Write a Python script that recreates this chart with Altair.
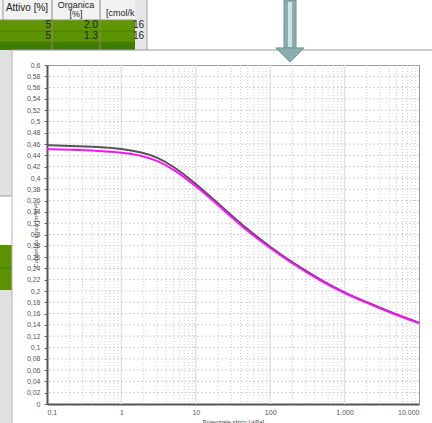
import altair as alt
import pandas as pd

# Water retention curves: water potential [-kPa] vs water content [m3/m3]
potenziale = [0.1, 0.2, 0.5, 1, 2, 3, 5, 10, 20, 50, 100, 200, 500, 1000, 2000, 5000, 10000]
contenuto_grigio = [0.458, 0.457, 0.455, 0.452, 0.445, 0.437, 0.421, 0.390, 0.355, 0.308,
                    0.278, 0.250, 0.218, 0.197, 0.180, 0.158, 0.144]
contenuto_magenta = [0.451, 0.450, 0.448, 0.445, 0.439, 0.431, 0.416, 0.386, 0.352, 0.305,
                     0.276, 0.248, 0.216, 0.196, 0.179, 0.157, 0.143]

# Axis ticks and grid positions
x_ticks = [0.1, 1, 10, 100, 1000, 10000]
x_major_grid = [1, 10, 100, 1000]
x_minor_grid = [m * 10.0 ** e for e in range(-1, 4) for m in range(2, 10)]
y_ticks = [round(0.02 * i, 2) for i in range(0, 31)]
y_grid = [round(0.02 * i, 2) for i in range(1, 30)]

# Background table contents
tab_header = ["Attivo [%]", "Organica", "[%]", "[cmol/k"]
tab_rows = [["5", "2.0", "16"], ["5", "1.3", "16"]]

W, H = 372, 339
PAD_L, PAD_T = 47, 65

curve = pd.DataFrame({
    "pot": potenziale * 2,
    "theta": contenuto_grigio + contenuto_magenta,
    "serie": ["A"] * len(potenziale) + ["B"] * len(potenziale),
})

x_scale = alt.Scale(type="log", domain=[0.1, 10000], nice=False)
y_scale = alt.Scale(domain=[0, 0.6], nice=False, zero=True)

x_axis = alt.Axis(
    values=x_ticks, grid=False, ticks=False,
    labelExpr="datum.value < 1 ? '0,1' : replace(format(datum.value, ','), ',', '.')",
    labelFontSize=7, labelColor="#555", labelFont="Liberation Sans", labelPadding=4,
    domainColor="#555", domainWidth=2,
    title="Potenziale idrico [-kPa]", titleFontSize=6, titleFontWeight="normal",
    titleColor="#444", titleFont="Liberation Sans", titleY=17, titleBaseline="middle",
)
y_axis = alt.Axis(
    values=y_ticks, grid=False, format=".2~f",
    labelExpr="replace(datum.label, '.', ',')",
    labelFontSize=7, labelColor="#555", labelFont="Liberation Sans", labelPadding=4,
    tickSize=3, tickColor="#666", domainColor="#555", domainWidth=2,
    title="Contenuto idrico [m³/m³]", titleFontSize=6, titleFontWeight="normal",
    titleColor="#444", titleFont="Liberation Sans", titleX=-12, titleY=170,
    titleBaseline="middle", titleAngle=270,
)

base = alt.Chart(curve)

def rules_x(vals, color, dash, width):
    return alt.Chart(pd.DataFrame({"pot": vals})).mark_rule(
        color=color, strokeDash=dash, strokeWidth=width
    ).encode(x=alt.X("pot:Q", scale=x_scale, axis=x_axis))

def rules_y(vals, color, dash, width):
    return alt.Chart(pd.DataFrame({"theta": vals})).mark_rule(
        color=color, strokeDash=dash, strokeWidth=width
    ).encode(y=alt.Y("theta:Q", scale=y_scale, axis=y_axis))

grid_minor = rules_x(x_minor_grid, "#cfcfcf", [1, 2], 1)
grid_major = rules_x(x_major_grid, "#e2e2e2", [1, 0], 1.5)
grid_h = rules_y(y_grid, "#cfcfcf", [2, 2], 1)

lines = base.mark_line(strokeWidth=2, interpolate="basis").encode(
    x=alt.X("pot:Q", scale=x_scale, axis=x_axis),
    y=alt.Y("theta:Q", scale=y_scale, axis=y_axis),
    color=alt.Color("serie:N", scale=alt.Scale(domain=["A", "B"], range=["#555555", "#ff10ff"]),
                    legend=None),
    order=alt.Order("serie:N"),
)

# Surrounding window decorations (pixel positions relative to the plot origin)
one = pd.DataFrame({"k": [0]})

def box(x0, y0, x1, y1, fill, stroke=None, sw=0):
    kw = {"fill": fill}
    if stroke:
        kw.update(stroke=stroke, strokeWidth=sw)
    return alt.Chart(one).mark_rect(**kw).encode(
        x=alt.value(x0 - PAD_L), x2=alt.value(x1 - PAD_L),
        y=alt.value(y0 - PAD_T), y2=alt.value(y1 - PAD_T))

def seg(x0, y0, x1, y1, color, sw=1):
    return alt.Chart(one).mark_rule(color=color, strokeWidth=sw).encode(
        x=alt.value(x0 - PAD_L), x2=alt.value(x1 - PAD_L),
        y=alt.value(y0 - PAD_T), y2=alt.value(y1 - PAD_T))

def label(x, y, txt, align="center", size=10, color="#222"):
    return alt.Chart(one).mark_text(text=txt, align=align, baseline="middle",
                                    fontSize=size, font="Liberation Sans", color=color).encode(
        x=alt.value(x - PAD_L), y=alt.value(y - PAD_T))

deco = [
    # table header and rows
    box(0, 0, 135, 20, "#f2f2f2"),
    box(0, 20, 135, 31, "#5e9500"),
    box(0, 31, 135, 42, "#5a9200"),
    box(0, 42, 135, 50, "#3f7d00"),
    seg(3, 0, 3, 20, "#9a9a9a"),
    seg(52, 0, 52, 50, "#8a8a8a"),
    seg(100, 0, 100, 50, "#8a8a8a"),
    seg(0, 20, 135, 20, "#8a8a8a"),
    seg(0, 31, 135, 31, "#4f8000"),
    seg(0, 42, 135, 42, "#4f8000"),
    # scrollbar
    box(135, 0, 147, 50, "#e6e6e6"),
    seg(147, 0, 147, 50, "#a0a0a0"),
    # left strip
    box(0, 50, 12, 423, "#e1e1e1"),
    box(0, 196, 12, 245, "#ffffff"),
    seg(0, 196, 12, 196, "#9a9a9a"),
    box(0, 245, 12, 290, "#5a9200"),
    seg(0, 268, 12, 268, "#3f7d00"),
    seg(12, 50, 12, 423, "#b5b5b5"),
    # window top edge
    seg(12, 50, 432, 50, "#9a9a9a"),
    label(27, 8, tab_header[0]),
    label(76, 5, tab_header[1], size=9),
    label(76, 14, tab_header[2], size=9),
    label(106, 13, tab_header[3], align="left", size=9),
    label(51, 25, tab_rows[0][0], align="right"),
    label(98, 25, tab_rows[0][1], align="right"),
    label(133, 25, tab_rows[0][2], align="left"),
    label(51, 36, tab_rows[1][0], align="right"),
    label(98, 36, tab_rows[1][1], align="right"),
    label(133, 36, tab_rows[1][2], align="left"),
    # arrow
    box(284, 0, 296, 49, "#8aaeae", "#6f9494", 1),
    box(288, 2, 292, 47, "#cfe3e3"),
    alt.Chart(one).mark_point(
        shape="M -1 -0.5 L 1 -0.5 L 0 0.5 Z", size=800, filled=True,
        fill="#8aaeae", stroke="#6f9494", strokeWidth=1, opacity=1,
    ).encode(x=alt.value(290 - PAD_L), y=alt.value(55 - PAD_T)),
]

chart = alt.layer(
    grid_minor, grid_major, grid_h, lines, *deco
).properties(
    width=W, height=H,
    padding={"left": PAD_L, "top": PAD_T, "right": 13, "bottom": 19},
    autosize=alt.AutoSizeParams(type="none"),
    background="white",
).configure_view(stroke="#9a9a9a", strokeWidth=1)

chart.save("out.html", embed_options={"renderer": "svg", "actions": False})
